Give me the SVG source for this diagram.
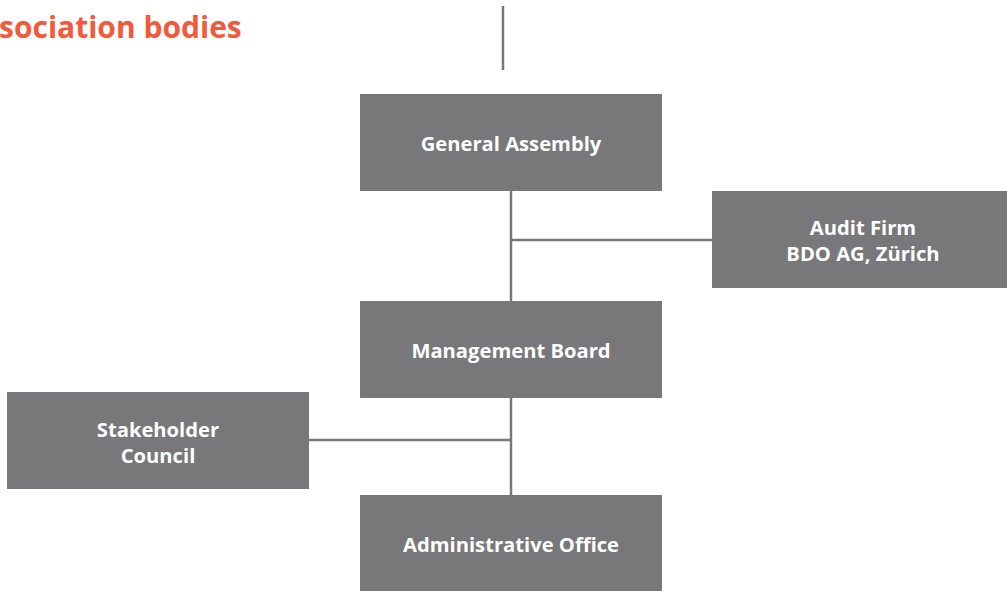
<svg xmlns="http://www.w3.org/2000/svg" width="1007" height="591" viewBox="0 0 1007 591">
<style>
.box{fill:#78787a}
.lbl{font-family:"Open Sans","Liberation Sans",Arial,sans-serif;font-weight:bold;font-size:20.2px;fill:#ffffff;text-anchor:middle}
.ln{stroke:#78787a;stroke-width:2.5;fill:none}
.title{font-family:"Open Sans","Liberation Sans",Arial,sans-serif;font-weight:bold;font-size:30px;fill:#f15a3c}
</style>
<rect width="1007" height="591" fill="#ffffff"/>
<text class="title" x="-1" y="38">sociation bodies</text>
<g id="connectors">
<line class="ln" x1="503" y1="6" x2="503" y2="70"/>
<line class="ln" x1="511" y1="191" x2="511" y2="302"/>
<line class="ln" x1="511" y1="240" x2="713" y2="240"/>
<line class="ln" x1="511" y1="398" x2="511" y2="496"/>
<line class="ln" x1="309" y1="440" x2="511" y2="440"/>
</g>
<g id="general-assembly">
<rect class="box" x="360" y="94" width="302" height="97"/>
<text class="lbl" x="511" y="151">General Assembly</text>
</g>
<g id="audit-firm">
<rect class="box" x="712" y="191" width="295" height="97"/>
<text class="lbl" x="863" y="235">Audit Firm</text>
<text class="lbl" x="863" y="261">BDO AG, Zürich</text>
</g>
<g id="management-board">
<rect class="box" x="360" y="301" width="302" height="97"/>
<text class="lbl" x="511" y="358">Management Board</text>
</g>
<g id="stakeholder-council">
<rect class="box" x="7" y="392" width="302" height="97"/>
<text class="lbl" x="158" y="437">Stakeholder</text>
<text class="lbl" x="158" y="463">Council</text>
</g>
<g id="administrative-office">
<rect class="box" x="360" y="495" width="302" height="96"/>
<text class="lbl" x="511" y="552">Administrative Office</text>
</g>
</svg>
